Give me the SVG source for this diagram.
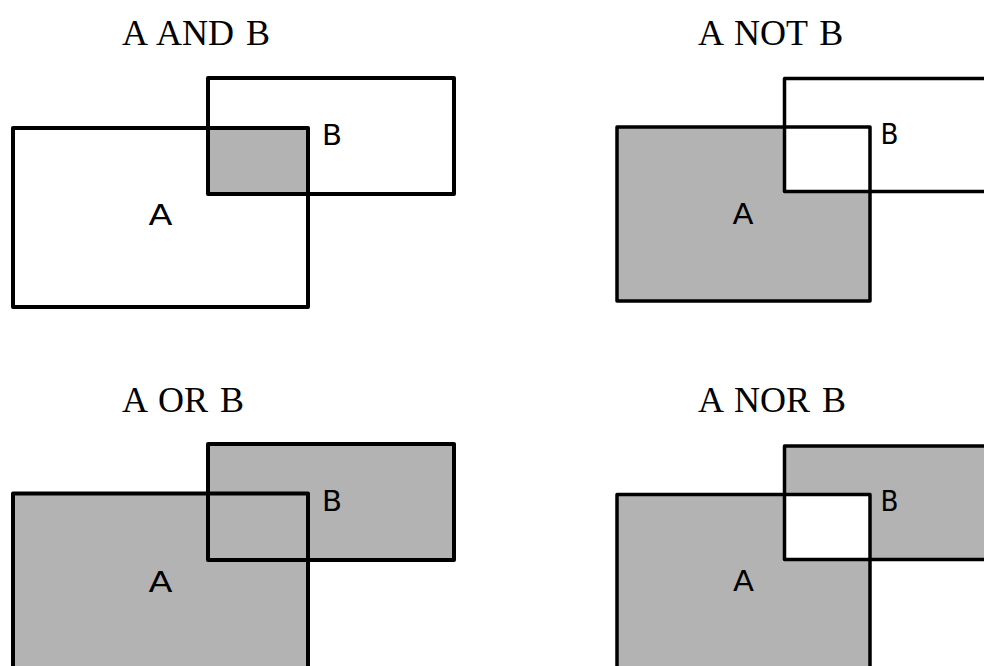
<svg xmlns="http://www.w3.org/2000/svg" width="984" height="666" viewBox="0 0 984 666">
<style>
.title{font-family:"Liberation Serif","Times New Roman",serif;font-size:36px;fill:#000;word-spacing:3px}
.lbl{font-family:"DejaVu Sans","Verdana",sans-serif;font-size:29px;fill:#000}
.g{fill:#b3b3b3;stroke:none}
.w{fill:#fff;stroke:none}
.o4{fill:none;stroke:#000;stroke-width:4;stroke-linejoin:round}
.o3{fill:none;stroke:#000;stroke-width:3.5;stroke-linejoin:round}
</style>
<rect width="984" height="666" fill="#fff"/>
<g id="connectors"/>

<!-- Panel 1: A AND B -->
<g id="panel-and">
  <text class="title" x="122" y="44.5">A AND B</text>
  <rect class="w" x="13" y="128" width="295" height="179"/>
  <rect class="w" x="208" y="78" width="246" height="116"/>
  <rect class="g" x="208" y="128" width="100" height="66"/>
  <g id="and-A"><rect class="o4" x="13" y="128" width="295" height="179"/><text class="lbl" x="148.5" y="224.5" textLength="24" lengthAdjust="spacingAndGlyphs">A</text></g>
  <g id="and-B"><rect class="o4" x="208" y="78" width="246" height="116"/><text class="lbl" x="322" y="144.5" textLength="20" lengthAdjust="spacingAndGlyphs">B</text></g>
</g>

<!-- Panel 2: A NOT B -->
<g id="panel-not">
  <text class="title" x="698" y="44.5">A NOT B</text>
  <rect class="g" x="617" y="127" width="253" height="174"/>
  <rect class="w" x="784.5" y="127" width="85.5" height="64.5"/>
  <g id="not-A"><rect class="o3" x="617" y="127" width="253" height="174"/><text class="lbl" x="732.5" y="223.5" textLength="21" lengthAdjust="spacingAndGlyphs">A</text></g>
  <g id="not-B"><rect class="o3" x="784.5" y="78.5" width="300" height="113"/><text class="lbl" x="880.5" y="143.5" textLength="18" lengthAdjust="spacingAndGlyphs">B</text></g>
</g>

<!-- Panel 3: A OR B -->
<g id="panel-or">
  <text class="title" x="122" y="412">A OR B</text>
  <rect class="g" x="13" y="493.5" width="295" height="200"/>
  <rect class="g" x="208" y="444" width="246" height="116"/>
  <g id="or-A"><rect class="o4" x="13" y="493.5" width="295" height="200"/><text class="lbl" x="148.5" y="591.5" textLength="24" lengthAdjust="spacingAndGlyphs">A</text></g>
  <g id="or-B"><rect class="o4" x="208" y="444" width="246" height="116"/><text class="lbl" x="322" y="510.5" textLength="20" lengthAdjust="spacingAndGlyphs">B</text></g>
</g>

<!-- Panel 4: A NOR B -->
<g id="panel-nor">
  <text class="title" x="698" y="412">A NOR B</text>
  <rect class="g" x="617" y="494.5" width="253" height="200"/>
  <rect class="g" x="784.5" y="446" width="300" height="113.5"/>
  <rect class="w" x="784.5" y="494.5" width="85.5" height="65"/>
  <g id="nor-A"><rect class="o3" x="617" y="494.5" width="253" height="200"/><text class="lbl" x="733" y="590.5" textLength="21" lengthAdjust="spacingAndGlyphs">A</text></g>
  <g id="nor-B"><rect class="o3" x="784.5" y="446" width="300" height="113.5"/><text class="lbl" x="880.5" y="511" textLength="18" lengthAdjust="spacingAndGlyphs">B</text></g>
</g>
</svg>
